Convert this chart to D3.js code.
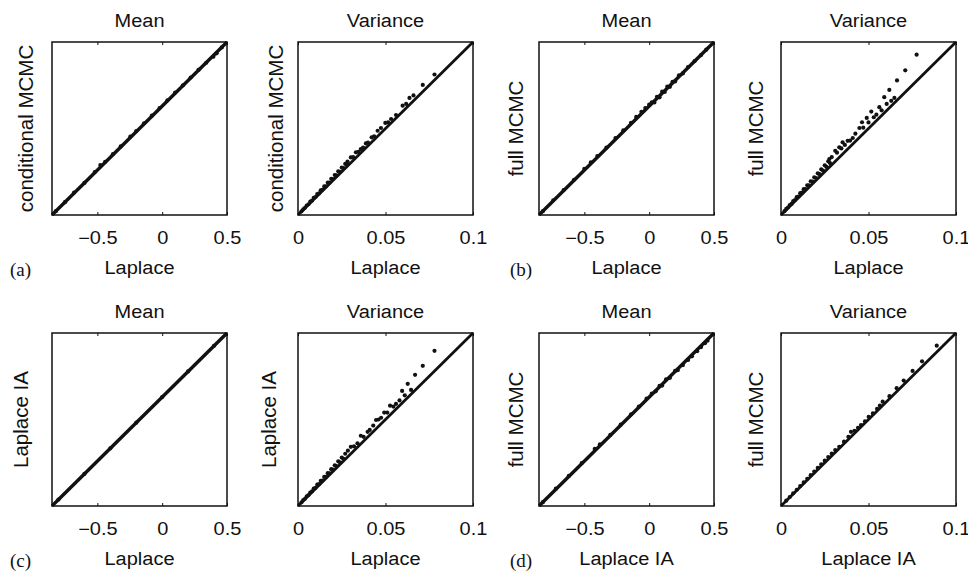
<!DOCTYPE html>
<html>
<head>
<meta charset="utf-8">
<script src="https://cdn.jsdelivr.net/npm/d3@7"></script>
<style>
  body { margin: 0; background: #fff; }
  svg { display: block; }
  text { font-family: "Liberation Sans", Arial, Helvetica, sans-serif; fill: #111; }
  .tag { font-family: "Liberation Serif", "Times New Roman", serif; }
</style>
</head>
<body>
<svg id="chart" width="968" height="575"></svg>
<script>

// axis ranges and tick labels
var meanDomain = [-0.85, 0.5]
var varDomain = [0, 0.1]
var meanTicks = [-0.5, 0, 0.5]
var meanTickLabels = ["\u22120.5", "0", "0.5"]
var varTicks = [0, 0.05, 0.1]
var varTickLabels = ["0", "0.05", "0.1"]

// [laplace, other] pairs
var meanA = [[-0.82,-0.82],[-0.75,-0.75],[-0.68,-0.675],[-0.6,-0.6],[-0.52,-0.515],[-0.477,-0.46],
  [-0.44,-0.435],[-0.38,-0.375],[-0.32,-0.315],[-0.246,-0.239],[-0.2,-0.195],[-0.14,-0.135],
  [-0.08,-0.075],[-0.02,-0.015],[0.04,0.045],[0.1,0.105],[0.16,0.162],[0.22,0.223],[0.28,0.282],
  [0.34,0.338],[0.395,0.385],[0.42,0.412],[0.46,0.458]]

var varA = [[0.002,0.0021],[0.003,0.0033],[0.004,0.0042],[0.005,0.0055],[0.006,0.0062],[0.007,0.0077],
  [0.008,0.0083],[0.009,0.0099],[0.010,0.0104],[0.011,0.0121],[0.012,0.0125],[0.013,0.0143],
  [0.014,0.0146],[0.015,0.0165],[0.016,0.0166],[0.017,0.0187],[0.018,0.0187],[0.019,0.0209],
  [0.020,0.0208],[0.021,0.0231],[0.022,0.0229],[0.023,0.0253],[0.024,0.0250],[0.025,0.0274],
  [0.026,0.0271],[0.027,0.0295],[0.028,0.0292],[0.0283,0.0309],[0.0302,0.0333],[0.0315,0.0335],
  [0.0331,0.0362],[0.0345,0.0365],[0.0359,0.0381],[0.0372,0.0390],[0.0388,0.0414],[0.0400,0.0418],
  [0.0421,0.0449],[0.0435,0.0455],[0.0455,0.0487],[0.0474,0.0503],[0.0499,0.0532],[0.0515,0.0535],
  [0.0532,0.0555],[0.0560,0.0578],[0.0598,0.0632],[0.0618,0.0642],[0.0637,0.0677],[0.0660,0.0691],
  [0.0713,0.0752],[0.0780,0.0812]]

var meanB = [[-0.82,-0.82],[-0.74,-0.735],[-0.66,-0.655],[-0.58,-0.575],[-0.5,-0.49],[-0.45,-0.44],
  [-0.4,-0.39],[-0.33,-0.325],[-0.26,-0.25],[-0.2,-0.19],[-0.14,-0.13],[-0.1,-0.085],[-0.06,-0.045],
  [-0.03,-0.015],[0.0,0.012],[0.02,0.03],[0.04,0.028],[0.06,0.072],[0.08,0.068],[0.1,0.112],
  [0.12,0.11],[0.14,0.152],[0.16,0.15],[0.18,0.19],[0.2,0.192],[0.23,0.24],[0.26,0.255],
  [0.3,0.305],[0.35,0.35],[0.4,0.398],[0.44,0.44]]

var varB = [[0.002,0.0022],[0.003,0.0035],[0.004,0.0043],[0.005,0.0057],[0.006,0.0064],[0.007,0.0080],
  [0.008,0.0086],[0.009,0.0103],[0.010,0.0107],[0.011,0.0126],[0.012,0.0129],[0.013,0.0149],
  [0.014,0.0150],[0.015,0.0172],[0.016,0.0172],[0.017,0.0195],[0.018,0.0193],[0.019,0.0218],
  [0.020,0.0214],[0.021,0.0241],[0.022,0.0236],[0.023,0.0264],[0.024,0.0257],[0.025,0.0287],
  [0.026,0.0278],[0.027,0.0310],[0.028,0.0300],[0.0276,0.0323],[0.0290,0.0335],[0.0310,0.0371],
  [0.0320,0.0360],[0.0333,0.0391],[0.0345,0.0385],[0.0352,0.0420],[0.0365,0.0405],[0.0381,0.0429],
  [0.0395,0.0430],[0.0410,0.0445],[0.0425,0.0470],[0.0448,0.0503],[0.0463,0.0536],[0.0470,0.0505],
  [0.0490,0.0561],[0.0500,0.0535],[0.0516,0.0598],[0.0530,0.0565],[0.0545,0.0580],[0.0562,0.0623],
  [0.0575,0.0605],[0.0590,0.0681],[0.0604,0.0642],[0.0619,0.0723],[0.0630,0.0660],[0.0648,0.0677],
  [0.0663,0.0778],[0.0710,0.0836],[0.0775,0.0927]]

var meanC = [[-0.8,-0.8],[-0.6,-0.6],[-0.4,-0.4],[-0.2,-0.2],[0,0],[0.2,0.2],[0.4,0.4]]

var varC = [[0.002,0.0021],[0.003,0.0034],[0.004,0.0042],[0.005,0.0056],[0.006,0.0063],[0.007,0.0078],
  [0.008,0.0084],[0.009,0.0101],[0.010,0.0105],[0.011,0.0123],[0.012,0.0126],[0.013,0.0146],
  [0.014,0.0147],[0.015,0.0168],[0.016,0.0168],[0.017,0.0190],[0.018,0.0189],[0.019,0.0213],
  [0.020,0.0210],[0.021,0.0235],[0.022,0.0231],[0.023,0.0258],[0.024,0.0252],[0.025,0.0280],
  [0.026,0.0273],[0.027,0.0302],[0.0285,0.0320],[0.0302,0.0342],[0.0320,0.0345],[0.0340,0.0362],
  [0.0359,0.0406],[0.0375,0.0400],[0.0398,0.0429],[0.0410,0.0440],[0.0430,0.0465],[0.0446,0.0497],
  [0.0460,0.0500],[0.0475,0.0510],[0.0493,0.0540],[0.0510,0.0540],[0.0526,0.0580],[0.0545,0.0575],
  [0.0560,0.0590],[0.0580,0.0610],[0.0595,0.0665],[0.0610,0.0640],[0.0627,0.0706],[0.0646,0.0671],
  [0.0669,0.0758],[0.0713,0.0810],[0.0780,0.0897]]

var meanD = [[-0.82,-0.82],[-0.72,-0.715],[-0.62,-0.615],[-0.52,-0.515],[-0.42,-0.405],[-0.38,-0.368],
  [-0.3,-0.295],[-0.22,-0.215],[-0.14,-0.135],[-0.08,-0.075],[-0.02,-0.012],[0.02,0.028],
  [0.05,0.045],[0.08,0.088],[0.1,0.09],[0.13,0.138],[0.16,0.15],[0.2,0.205],[0.22,0.21],
  [0.26,0.25],[0.3,0.29],[0.33,0.318],[0.37,0.358],[0.4,0.39],[0.43,0.42],[0.45,0.44]]

var varD = [[0.003,0.0031],[0.005,0.0052],[0.007,0.0073],[0.009,0.0094],[0.011,0.0115],[0.013,0.0136],
  [0.015,0.0157],[0.017,0.0178],[0.019,0.0199],[0.021,0.0220],[0.023,0.0241],[0.025,0.0262],
  [0.027,0.0283],[0.029,0.0303],[0.031,0.0323],[0.0333,0.0342],[0.0360,0.0372],[0.0385,0.0400],
  [0.0400,0.0429],[0.0420,0.0435],[0.0440,0.0452],[0.0457,0.0468],[0.0480,0.0490],[0.0501,0.0516],
  [0.0525,0.0535],[0.0549,0.0561],[0.0565,0.0580],[0.0581,0.0603],[0.0620,0.0635],[0.0661,0.0681],
  [0.0701,0.0725],[0.0752,0.0781],[0.0806,0.0836],[0.0890,0.0927]]

var panels = [
  {left: 52,  top: 42,  kind: "mean", pts: meanA, title: "Mean",     ylab: "conditional MCMC", ylabX: 33,  xlab: "Laplace",    tag: "(a)", tagX: 10},
  {left: 298, top: 42,  kind: "var",  pts: varA,  title: "Variance", ylab: "conditional MCMC", ylabX: 283, xlab: "Laplace"},
  {left: 539, top: 42,  kind: "mean", pts: meanB, title: "Mean",     ylab: "full MCMC",        ylabX: 523, xlab: "Laplace",    tag: "(b)", tagX: 510},
  {left: 781, top: 42,  kind: "var",  pts: varB,  title: "Variance", ylab: "full MCMC",        ylabX: 763, xlab: "Laplace"},
  {left: 52,  top: 333, kind: "mean", pts: meanC, title: "Mean",     ylab: "Laplace IA",       ylabX: 28,  xlab: "Laplace",    tag: "(c)", tagX: 10},
  {left: 298, top: 333, kind: "var",  pts: varC,  title: "Variance", ylab: "Laplace IA",       ylabX: 276, xlab: "Laplace"},
  {left: 539, top: 333, kind: "mean", pts: meanD, title: "Mean",     ylab: "full MCMC",        ylabX: 523, xlab: "Laplace IA", tag: "(d)", tagX: 510},
  {left: 781, top: 333, kind: "var",  pts: varD,  title: "Variance", ylab: "full MCMC",        ylabX: 763, xlab: "Laplace IA"}
]

var W = 175, H = 173
var squash = 0.88   // horizontal text in the figure is a bit flatter than the font
var ink = "#111"

var svg = d3.select("#chart")

panels.forEach(function(p, idx) {

  var domain = p.kind == "mean" ? meanDomain : varDomain
  var ticks = p.kind == "mean" ? meanTicks : varTicks
  var tickLabels = p.kind == "mean" ? meanTickLabels : varTickLabels

  var x = d3.scaleLinear().domain(domain).range([0, W])
  var y = d3.scaleLinear().domain(domain).range([H, 0])

  var g = svg.append("g").attr("transform", "translate(" + p.left + "," + p.top + ")")

  g.append("clipPath").attr("id", "clip" + idx)
    .append("rect").attr("x", -1).attr("y", -1).attr("width", W + 2).attr("height", H + 2)

  var plot = g.append("g").attr("clip-path", "url(#clip" + idx + ")")

  // y = x reference line
  var line = d3.line()
    .x(function(d) { return x(d) })
    .y(function(d) { return y(d) })

  plot.append("path")
    .datum(domain)
    .attr("d", line)
    .attr("fill", "none")
    .attr("stroke", ink)
    .attr("stroke-width", p.kind == "mean" ? 3.4 : 2.8)

  plot.selectAll(".dot")
    .data(p.pts)
    .enter().append("circle")
    .attr("class", "dot")
    .attr("cx", function(d) { return x(d[0]) })
    .attr("cy", function(d) { return y(d[1]) })
    .attr("r", 2.1)
    .style("fill", ink)

  // ticks, pointing inward, top and bottom
  var bottom = g.append("g")
    .attr("transform", "translate(0," + H + ")")
    .call(d3.axisBottom(x).tickValues(ticks).tickSize(-3).tickPadding(0)
      .tickFormat(function(d, i) { return tickLabels[i] }))

  bottom.selectAll("text")
    .attr("y", 29 / squash)
    .attr("dy", 0)
    .attr("transform", "scale(1," + squash + ")")
    .style("font-size", "20px")
    .style("font-family", "'Liberation Sans', Arial, sans-serif")
    .style("fill", "#111")

  g.append("g")
    .call(d3.axisTop(x).tickValues(ticks).tickSize(-3).tickFormat(""))

  g.selectAll(".domain").remove()
  g.selectAll(".tick line").attr("stroke", ink).attr("stroke-width", 1)

  g.append("rect")
    .attr("width", W).attr("height", H)
    .attr("fill", "none")
    .attr("stroke", ink)
    .attr("stroke-width", 1.5)

  // texts
  g.append("text")
    .attr("transform", "translate(" + (W / 2) + "," + (-15) + ") scale(1," + squash + ")")
    .attr("text-anchor", "middle")
    .style("font-size", "20px")
    .text(p.title)

  g.append("text")
    .attr("transform", "translate(" + (W / 2) + "," + (H + 59) + ") scale(1," + squash + ")")
    .attr("text-anchor", "middle")
    .style("font-size", "20px")
    .text(p.xlab)

  svg.append("text")
    .attr("transform", "translate(" + p.ylabX + "," + (p.top + H / 2) + ") rotate(-90)")
    .attr("text-anchor", "middle")
    .style("font-size", "20.5px")
    .text(p.ylab)

  if (p.tag) {
    svg.append("text")
      .attr("class", "tag")
      .attr("x", p.tagX)
      .attr("y", p.top + H + 61)
      .style("font-size", "19px")
      .text(p.tag)
  }
})

</script>
</body>
</html>
